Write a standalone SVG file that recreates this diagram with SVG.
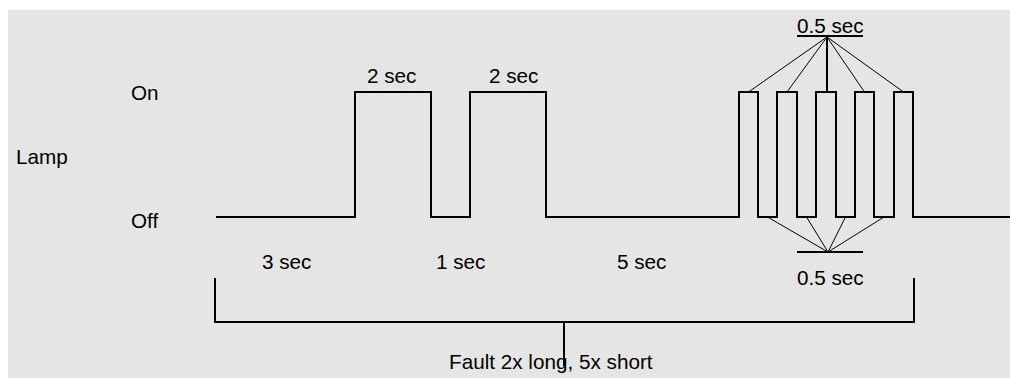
<svg xmlns="http://www.w3.org/2000/svg" width="1010" height="378" viewBox="0 0 1010 378">
<style>
text{font-family:"Liberation Sans",Arial,sans-serif;font-size:20.7px;fill:#000}
.w{fill:none;stroke:#000;stroke-width:2}
.f{fill:none;stroke:#000;stroke-width:1}
</style>
<rect x="0" y="0" width="1010" height="378" fill="#ffffff"/>
<rect x="8" y="10" width="1002" height="368" fill="#e5e5e5"/>
<g id="labels">
<text x="16" y="164">Lamp</text>
<text x="131" y="100">On</text>
<text x="131" y="228">Off</text>
<text x="367" y="83">2 sec</text>
<text x="489" y="83">2 sec</text>
<text x="262" y="269">3 sec</text>
<text x="436" y="269">1 sec</text>
<text x="617" y="269">5 sec</text>
<text x="797" y="33">0.5 sec</text>
<text x="797" y="285">0.5 sec</text>
<text x="449" y="369">Fault 2x long, 5x short</text>
</g>
<g id="signal">
<path class="w" d="M216 217H355V92H431V217H470V92H546V217H739V92H758V217H777V92H797V217H816V92H836V217H855V92H874V217H894V92H913V217H1010"/>
</g>
<g id="connectors">
<line class="w" x1="797" y1="36" x2="863" y2="36"/>
<path class="f" d="M827 37L748.5 92M827 37L787 92M827 37L864.5 92M827 37L903.5 92"/>
<line class="w" x1="827" y1="37" x2="827" y2="92" stroke-width="1.5"/>
<line class="w" x1="797" y1="252" x2="863" y2="252"/>
<path class="f" d="M828 252L767.5 217M828 252L806.5 217M828 252L845.5 217M828 252L884 217"/>
<path class="w" d="M215 278V322H914V278M564 322V366"/>
</g>
</svg>
